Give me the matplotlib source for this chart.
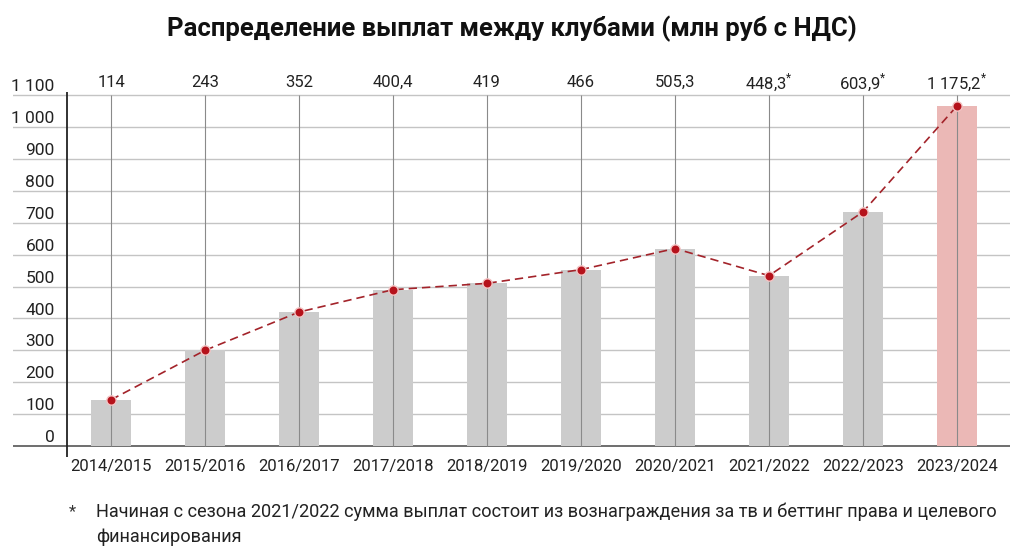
import matplotlib.pyplot as plt

seasons = ["2014/2015", "2015/2016", "2016/2017", "2017/2018", "2018/2019",
           "2019/2020", "2020/2021", "2021/2022", "2022/2023", "2023/2024"]
# bar heights as drawn on the axis scale
bar_heights = [145, 300, 420, 490, 510, 553, 619, 534, 734, 1066]
# payout labels shown above the chart
value_labels = ["114", "243", "352", "400,4", "419", "466", "505,3", "448,3", "603,9", "1 175,2"]
starred = [False, False, False, False, False, False, False, True, True, True]
yticks = list(range(0, 1200, 100))

plt.rcParams['font.family'] = ['Roboto', 'DejaVu Sans']
plt.rcParams['mathtext.fontset'] = 'custom'
plt.rcParams['mathtext.rm'] = 'Roboto'

fig = plt.figure(figsize=(10.24, 5.58), dpi=100)
ax = fig.add_axes([13 / 1024, 0.1778, 997 / 1024, 0.8353 - 0.1778])
ax.set_xlim(-1.043, 9.564)
ax.set_ylim(-40, 1110)
ax.axis('off')

x = list(range(len(seasons)))

# grid
for t in yticks:
    ax.axhline(t, color="#555555" if t == 0 else "#c4c4c4", lw=1.2 if t == 0 else 1, zorder=1)
    lbl = f"{t // 1000} {t % 1000:03d}" if t >= 1000 else str(t)
    ax.text(-0.6, t + 12, lbl, ha='right', va='baseline', fontsize=12.5, color="#222222")
ax.vlines(x, 0, 1100, color="#8a8a8a", lw=0.8, zorder=3)
ax.vlines(-0.468, -34, 1109, color="#222222", lw=1.3, zorder=4)

colors = ["#cccccc"] * len(seasons)
colors[-1] = "#ebb8b6"
ax.bar(x, bar_heights, width=0.43, color=colors, zorder=2)

ax.plot(x, bar_heights, color="#a3232a", lw=1.2, ls=(0, (5, 3)), zorder=5)
ax.scatter(x, bar_heights, s=45, color="#b5121b", edgecolor="#f3c4c4", linewidth=1, zorder=6)

for i, lab in enumerate(value_labels):
    txt = lab + r"$^{*}$" if starred[i] else lab
    ax.text(i, 1141, txt, ha='center', va='center', fontsize=12, color="#222222")
    ax.text(i, -63, seasons[i], ha='center', va='center', fontsize=12, color="#222222")

fig.text(0.5, 0.948, "Распределение выплат между клубами (млн руб с НДС)",
         ha='center', va='center', fontsize=18.5, fontweight='bold', color="#111111")

fig.text(72 / 1024, 1 - 512 / 558, "*", ha='center', va='center', fontsize=12, color="#333333")
fig.text(96 / 1024, 1 - 512 / 558,
         "Начиная с сезона 2021/2022 сумма выплат состоит из вознаграждения за тв и беттинг права и целевого",
         ha='left', va='center', fontsize=13.1, color="#222222")
fig.text(96 / 1024, 1 - 537 / 558, "финансирования",
         ha='left', va='center', fontsize=13.1, color="#222222")

fig.savefig("out.png", dpi=100, facecolor="white")
plt.close(fig)
